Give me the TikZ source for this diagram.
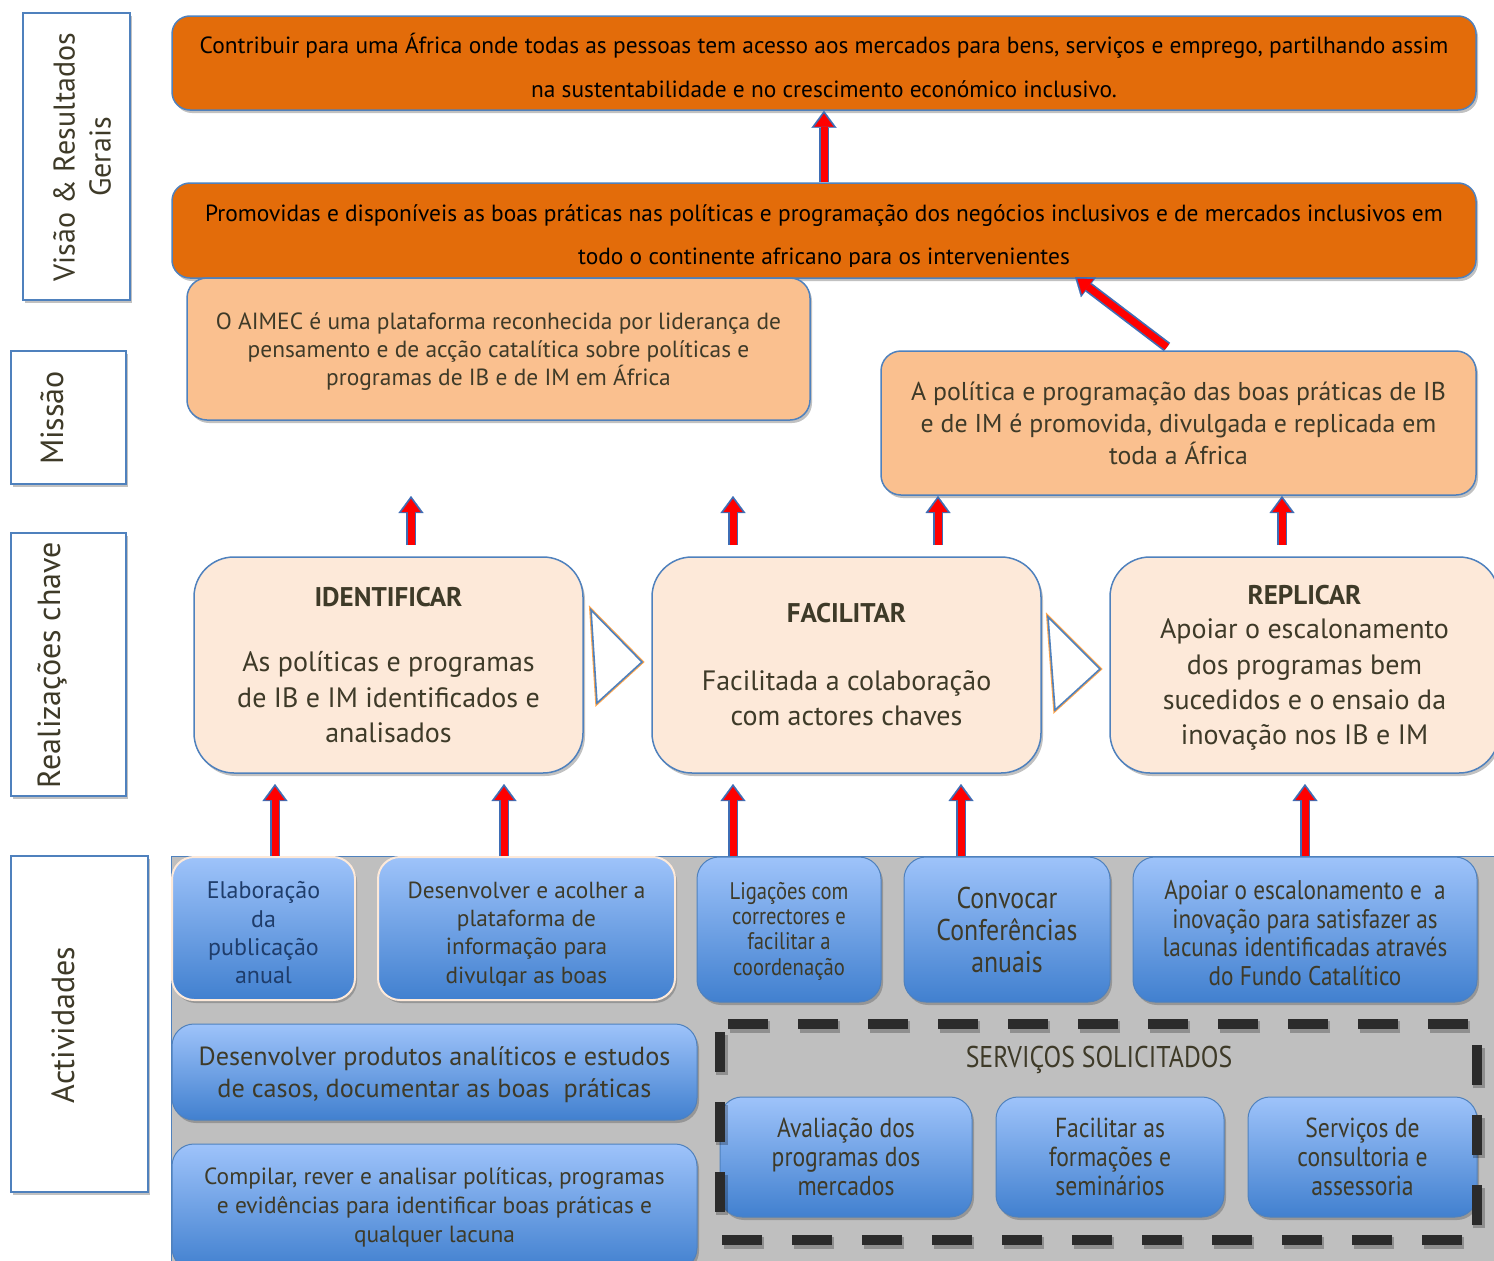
\documentclass[tikz,border=0pt]{standalone}
\usepackage{fontspec}
\setmainfont{PT Sans}
\newfontfamily\narrowfont{PT Sans}[FakeStretch=0.86]
\usetikzlibrary{shadows,arrows.meta,calc}
\definecolor{darkorange}{HTML}{E36C0A}
\definecolor{lightorange}{HTML}{FAC08F}
\definecolor{paleorange}{HTML}{FDE9D9}
\definecolor{bordblue}{HTML}{4F81BD}
\definecolor{actgray}{HTML}{BFBFBF}
\definecolor{gradtop}{HTML}{9EC3FA}
\definecolor{gradbot}{HTML}{4180CF}
\definecolor{txtdark}{HTML}{3E3A28}
\definecolor{navytext}{HTML}{1F3D6B}
\definecolor{arrowblue}{HTML}{3E6DB5}
\definecolor{arrowred}{HTML}{FF0000}
\definecolor{dashdark}{HTML}{2B2B2B}
\begin{document}
\begin{tikzpicture}[x=1pt,y=-1pt,
  shadowed/.style={drop shadow={opacity=0.35,shadow xshift=2pt,shadow yshift=-3pt,fill=black!70}},
  labelbox/.style={draw=bordblue,line width=1.5pt,fill=white,shadowed,inner sep=0pt},
  labeltext/.style={rotate=90,text=txtdark,align=center,font=\fontsize{32}{36}\selectfont},
  orangebox/.style={draw=bordblue,line width=1.5pt,fill=darkorange,rounded corners=18pt,shadowed,inner sep=0pt},
  missionbox/.style={draw=bordblue,line width=1.5pt,fill=lightorange,rounded corners=20pt,shadowed,inner sep=0pt,text=txtdark,align=center},
  achbox/.style={draw=bordblue,line width=1.5pt,fill=paleorange,rounded corners=40pt,shadowed,inner sep=0pt,text=txtdark,align=center},
  actbox/.style={draw=bordblue,line width=1pt,top color=gradtop,bottom color=gradbot,rounded corners=22pt,shadowed,inner sep=0pt,text=txtdark,align=center},
  actfirst/.style={actbox,draw=paleorange,line width=2pt},
  chev/.style={fill=white,draw=bordblue,line width=1.6pt,line join=miter,preaction={draw=orange!70,line width=3.6pt}},
  barrow/.style={draw=arrowred,line width=7pt,-{Triangle[length=13pt,width=19pt,line width=0.1pt]},shorten >=3pt,
     preaction={draw=arrowblue,line width=10.5pt,-{Triangle[length=17pt,width=25pt,line width=0.1pt]},shorten >=0pt}},
  txt/.style={text=txtdark,align=center,inner sep=0pt}
]
\useasboundingbox (0,0) rectangle (1494,1261);

% ---------- left label boxes ----------
\node[labelbox,minimum width=107pt,minimum height=287pt] (labvis) at (76.5,156.5) {};
\node[labeltext,font=\fontsize{30}{36}\selectfont] (labvist) at (82,157) {Visão \& Resultados\\Gerais};
\node[labelbox,minimum width=115pt,minimum height=133pt] (labmis) at (68.5,417.5) {};
\node[labeltext] (labmist) at (52,418) {Missão};
\node[labelbox,minimum width=115pt,minimum height=263pt] (labrea) at (68.5,664.5) {};
\node[labeltext] (labreat) at (52,665) {Realizações chave};
\node[labelbox,minimum width=137pt,minimum height=336pt] (labact) at (79.5,1024) {};
\node[labeltext] (labactt) at (63,1025) {Actividades};

% ---------- top orange boxes ----------
\node[orangebox,minimum width=1304pt,minimum height=94pt] (top1) at (824,63) {};
\node[align=center,inner sep=0pt,font=\fontsize{23.4}{44}\selectfont] (top1t) at (824,65)
  {Contribuir para uma África onde todas as pessoas tem acesso aos mercados para bens, serviços e emprego, partilhando assim\\
   na sustentabilidade e no crescimento económico inclusivo.};
\node[orangebox,minimum width=1304pt,minimum height=95pt] (top2) at (824,230.5) {};
\begin{scope}
  \clip (172,183) rectangle (1476,266);
  \node[align=center,inner sep=0pt,font=\fontsize{23.4}{43}\selectfont] (top2t) at (824,237)
  {Promovidas e disponíveis as boas práticas nas políticas e programação dos negócios inclusivos e de mercados inclusivos em\\
   todo o continente africano para os intervenientes};
\end{scope}

% ---------- mission boxes ----------
\node[missionbox,minimum width=623pt,minimum height=142pt] (mis) at (498.5,349) {};
\node[txt,font=\fontsize{23.4}{28}\selectfont] (mist) at (498.5,352)
  {O AIMEC é uma plataforma reconhecida por liderança de\\
   pensamento e de acção catalítica sobre políticas e\\
   programas de IB e de IM em África};
\node[missionbox,minimum width=595pt,minimum height=144pt,font=\fontsize{25.8}{32}\selectfont] (pol) at (1178.5,423)
  {A política e programação das boas práticas de IB\\
   e de IM é promovida, divulgada e replicada em\\
   toda a África};

% ---------- key achievements ----------
\node[achbox,minimum width=389pt,minimum height=216pt,font=\fontsize{28}{35.5}\selectfont] (ident) at (388.5,665)
  {{\bfseries\fontsize{27}{30}\selectfont IDENTIFICAR}\\[30pt]
   As políticas e programas\\ de IB e IM identificados e\\ analisados};
\node[achbox,minimum width=389pt,minimum height=216pt,font=\fontsize{28}{35.5}\selectfont] (facil) at (846.5,665)
  {{\bfseries\fontsize{27}{30}\selectfont FACILITAR}\\[32pt]
   Facilitada a colaboração\\ com actores chaves};
\node[achbox,minimum width=389pt,minimum height=216pt] (repl) at (1304.5,665) {};
\node[txt,font=\fontsize{28}{35.3}\selectfont] (replt) at (1304.5,668)
  {{\bfseries\fontsize{27}{30}\selectfont REPLICAR}\\[-1pt]
   Apoiar o escalonamento\\ dos programas bem\\ sucedidos e o ensaio da\\ inovação nos IB e IM};

% chevrons
\draw[chev] (591,610) -- (642,662) -- (597,703) -- cycle;
\draw[chev] (1048,617) -- (1100,669) -- (1055,710) -- cycle;

% ---------- activities area ----------
\node[fill=actgray,draw=bordblue,line width=1pt,minimum width=1340pt,minimum height=420pt,inner sep=0pt] (area) at (841,1066) {};

\node[actfirst,minimum width=183pt,minimum height=143pt] (elab) at (263.5,928.5) {};
\node[actfirst,minimum width=297pt,minimum height=143pt] (desv) at (526.5,928.5) {};
\begin{scope}
  \clip (172,857) rectangle (675,985);
  \node[txt,text=navytext,font=\fontsize{24}{28.3}\selectfont] (elabt) at (263.5,933)
    {Elaboração\\ da\\ publicação\\ anual};
  \node[txt,font=\fontsize{23.3}{28.3}\selectfont] (desvt) at (526.5,935)
    {Desenvolver e acolher a\\ plataforma de\\ informação para\\ divulgar as boas};
\end{scope}
\node[actbox,minimum width=184pt,minimum height=145pt] (lig) at (789,929.5) {};
\node[txt,font=\narrowfont\fontsize{24}{25.3}\selectfont] (ligt) at (789,931)
  {Ligações com\\ correctores e\\ facilitar a\\ coordenação};
\node[actbox,minimum width=206pt,minimum height=145pt,font=\narrowfont\fontsize{30}{32}\selectfont] (conv) at (1007,929.5)
  {Convocar\\ Conferências\\ anuais};
\node[actbox,minimum width=344pt,minimum height=145pt] (apo) at (1305,929.5) {};
\node[txt,font=\narrowfont\fontsize{27}{28.4}\selectfont] (apot) at (1305,933)
  {Apoiar o escalonamento e~ a\\ inovação para satisfazer as\\ lacunas identificadas através\\ do Fundo Catalítico};

\node[actbox,minimum width=525pt,minimum height=96pt] (prod) at (434.5,1072) {};
\node[txt,font=\fontsize{26.2}{32}\selectfont] (prodt) at (434.5,1075)
  {Desenvolver produtos analíticos e estudos\\ de casos, documentar as boas~ práticas};
\node[actbox,minimum width=525pt,minimum height=126pt,font=\fontsize{23.4}{29}\selectfont] (comp) at (434.5,1207)
  {Compilar, rever e analisar políticas, programas\\ e evidências para identificar boas práticas e\\ qualquer lacuna};

% services
\node[txt,font=\narrowfont\fontsize{30}{30}\selectfont] (servt) at (1099,1060) {SERVIÇOS SOLICITADOS};
\node[actbox,minimum width=252pt,minimum height=120pt,font=\narrowfont\fontsize{27.5}{29}\selectfont] (aval) at (846,1157)
  {Avaliação dos\\ programas dos\\ mercados};
\node[actbox,minimum width=228pt,minimum height=120pt,font=\narrowfont\fontsize{27.5}{29}\selectfont] (form) at (1110,1157)
  {Facilitar as\\ formações e\\ seminários};
\node[actbox,minimum width=229pt,minimum height=120pt,font=\narrowfont\fontsize{27.5}{29}\selectfont] (cons) at (1362.5,1157)
  {Serviços de\\ consultoria e\\ assessoria};
\draw[draw=black,opacity=0.25,line width=12pt,dash pattern=on 40pt off 30pt,dash phase=-8pt]
  (722,1027) rectangle (1479,1243);
\draw[draw=dashdark,line width=10pt,dash pattern=on 40pt off 30pt,dash phase=-8pt]
  (720,1024) rectangle (1477,1240);

% ---------- arrows ----------
\coordinate (d1s) at (1167,347);
\coordinate (d1e) at (1075,277);
\draw[barrow] (top2.north) -- (top1.south);
\draw[barrow] (d1s) -- (d1e);

\foreach \xx/\nm in {411/a,733/b,938/c,1282/d}{
  \coordinate (up\nm s) at (\xx,545);
  \coordinate (up\nm e) at (\xx,496);
  \draw[barrow] (up\nm s) -- (up\nm e);
}
\foreach \xx/\nm in {275/a,504/b,733/c,961/d,1305/e}{
  \coordinate (lo\nm s) at (\xx,856);
  \coordinate (lo\nm e) at (\xx,784);
  \draw[barrow] (lo\nm s) -- (lo\nm e);
}
\end{tikzpicture}
\end{document}
